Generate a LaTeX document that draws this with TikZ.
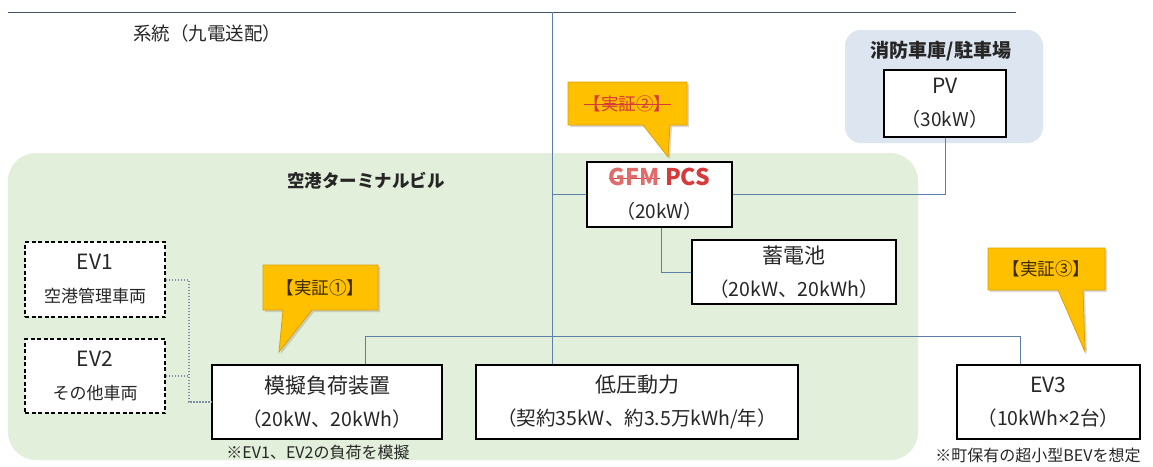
\documentclass[tikz,border=0pt]{standalone}
\usepackage{fontspec}
\setmainfont{Noto Sans CJK JP}
\newfontfamily\latinfont{Noto Sans}
\usetikzlibrary{shadows,calc}
\definecolor{gfill}{HTML}{E2EFDA}
\definecolor{bfill}{HTML}{DCE5F0}
\definecolor{wire}{HTML}{5B7FA8}
\definecolor{topwire}{HTML}{44546A}
\definecolor{callfill}{HTML}{FFC000}
\definecolor{calldraw}{HTML}{E0A000}
\definecolor{calltext}{HTML}{3D2B00}
\definecolor{pcsred}{HTML}{D63A3A}
\definecolor{txt}{HTML}{262626}
\definecolor{dotc}{HTML}{7F8FA6}
\newcommand\mystrike[1]{\setbox0=\hbox{#1}\rlap{\color{pcsred}\rule[0.3em]{\wd0}{1pt}}\box0}
\begin{document}
\begin{tikzpicture}[x=1pt,y=-1pt,
  box/.style={draw=black,line width=1.1pt,fill=white,text=txt,align=center,inner sep=0pt,
    font=\fontsize{17}{33}\selectfont},
  evbox/.style={box,dashed,dash pattern=on 4pt off 2.5pt},
  wire/.style={draw=wire,line width=0.9pt},
  topline/.style={draw=topwire,line width=1pt},
  dots/.style={draw=dotc,line width=2pt,dash pattern=on 1.5pt off 1.5pt},
  callout/.style={fill=callfill,draw=calldraw,line width=0.8pt,
    drop shadow={opacity=0.3,shadow xshift=2pt,shadow yshift=-2pt}},
  calltxt/.style={text=calltext,font=\fontsize{17.5}{17.5}\selectfont,inner sep=0pt},
  region/.style={text=txt,font=\fontsize{17.5}{17.5}\selectfont\bfseries,inner sep=0pt},
  note/.style={text=txt,font=\fontsize{16}{16}\selectfont,inner sep=0pt}]
\useasboundingbox (0,0) rectangle (1153,466);
\fill[white] (0,0) rectangle (1153,466);
% regions
\fill[gfill, rounded corners=28] (8,153) rectangle (918,460);
\fill[bfill, rounded corners=16] (845,30) rectangle (1043,143);
% top line
\coordinate (tl) at (8,12);
\coordinate (tr) at (1016,12);
\coordinate (gtop) at (552,12);
\draw[topline] (tl) -- (tr);
\node[text=txt,font=\fontsize{18.5}{18.5}\selectfont,inner sep=0pt] (grid) at (207,33) {系統（九電送配）};
\node[region] (terminal) at (366,181) {空港ターミナルビル};
\node[region,font=\fontsize{19}{19}\selectfont\bfseries] (garage) at (941,51) {消防車庫/駐車場};
% boxes
\node[box,minimum width=122,minimum height=67] (pv) at (945,103.5)
  {\fontsize{21}{24}\selectfont PV\\\fontsize{19}{24}\selectfont（30kW）};
\node[box,minimum width=145,minimum height=65] (pcs) at (659.5,194.5)
  {\fontsize{23}{25}\selectfont\bfseries\color{pcsred}{\color{pcsred!75}\mystrike{GFM}} PCS\\\fontsize{19}{25}\selectfont\mdseries（20kW）};
\node[box,minimum width=204,minimum height=64] (batt) at (794,272)
  {\fontsize{21}{28}\selectfont 蓄電池\\\fontsize{19.5}{28}\selectfont（20kW、20kWh）};
\node[evbox,minimum width=140,minimum height=75] (ev1) at (95,279.5)
  {\fontsize{21}{35}\selectfont EV1\\\fontsize{17}{35}\selectfont 空港管理車両};
\node[evbox,minimum width=140,minimum height=74] (ev2) at (95,376)
  {\fontsize{21}{35}\selectfont EV2\\\fontsize{17}{35}\selectfont その他車両};
\node[box,minimum width=230,minimum height=74] (mogi) at (327,402)
  {\fontsize{21}{32}\selectfont 模擬負荷装置\\\fontsize{19.5}{32}\selectfont（20kW、20kWh）};
\node[box,minimum width=322,minimum height=74] (lv) at (637,402)
  {\fontsize{21}{33}\selectfont 低圧動力\\\fontsize{19.5}{33}\selectfont（契約35kW、約3.5万kWh/年）};
\node[box,minimum width=183,minimum height=74] (ev3) at (1048.5,402)
  {\fontsize{21}{33}\selectfont EV3\\\fontsize{19.5}{33}\selectfont（10kWh{\latinfont ×}2台）};
\node[note] (mogin) at (318,452) {※EV1、EV2の負荷を模擬};
\node[note] (ev3n) at (1038,455) {※町保有の超小型BEVを想定};
% wires
\draw[wire] (gtop) -- (gtop |- lv.north);
\draw[wire] (pcs.west) -- (pcs.west -| gtop);
\draw[wire] (pv.south) |- (pcs.east);
\draw[wire] ([xshift=1.5]pcs.south) |- (batt.west);
\draw[wire] ([xshift=38]mogi.north) -- ++(0,-28) -| ([xshift=-28.5]ev3.north);
% dotted EV links
\draw[dots] (ev1.east) -- ++(23,0) coordinate (dj) |- (mogi.west);
\draw[dots] (ev2.east) -- (ev2.east -| dj);
% callouts
\filldraw[callout] (263,265) -- (378,265) -- (378,310) -- (312,310) -- (279,352) -- (283,310) -- (263,310) -- cycle;
\node[calltxt] (c1) at (320.5,287.5) {【実証①】};
\filldraw[callout] (568,82) -- (687,82) -- (687,125) -- (670,125) -- (668,157) -- (643,125) -- (568,125) -- cycle;
\node[calltxt,text=pcsred] (c2) at (627.5,103.5) {\mystrike{【実証②】}};
\filldraw[callout] (988,248) -- (1105,248) -- (1105,290) -- (1083,290) -- (1085,352) -- (1058,290) -- (988,290) -- cycle;
\node[calltxt] (c3) at (1046.5,269) {【実証③】};
\end{tikzpicture}
\end{document}
